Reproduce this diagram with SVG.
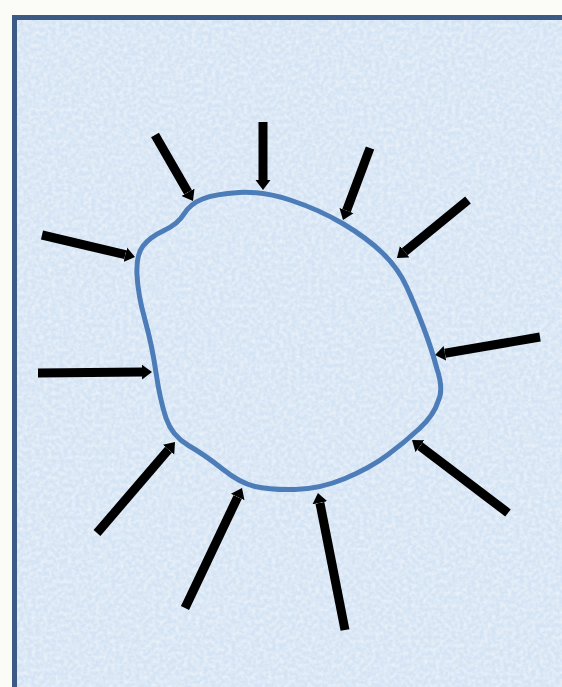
<svg xmlns="http://www.w3.org/2000/svg" width="562" height="687" viewBox="0 0 562 687">
  <style>
    .arrow { stroke: #000; stroke-width: 9; fill: none; stroke-linecap: butt; marker-end: url(#head); }
    .blob { fill: none; stroke: #4d7db8; stroke-width: 5; stroke-linejoin: round; }
  </style>
  <defs>
    <marker id="head" viewBox="0 0 10 16" markerUnits="userSpaceOnUse" markerWidth="10" markerHeight="16" refX="0" refY="8" orient="auto">
      <path d="M0,0.5 L10,8 L0,15.5 Z" fill="#000"/>
    </marker>
    <filter id="tex" x="0" y="0" width="100%" height="100%">
      <feTurbulence type="fractalNoise" baseFrequency="0.25" numOctaves="3" seed="5"/>
      <feColorMatrix type="matrix" values="0 0 0 0 1  0 0 0 0 1  0 0 0 0 1  1.7 0 0 0 -0.6"/>
    </filter>
  </defs>
  <rect x="0" y="0" width="562" height="687" fill="#fbfcf8"/>
  <g id="panel">
    <rect x="14.5" y="17.5" width="560" height="680" fill="#d5e4f4"/>
    <rect x="17" y="20" width="545" height="667" fill="#fff" filter="url(#tex)" opacity="0.6"/>
    <rect x="14.5" y="17.5" width="560" height="680" fill="none" stroke="#3b5b86" stroke-width="5"/>
  </g>
  <g id="cell">
    <path class="blob" d="M239,192.5 Q263,191 291.5,200.5 Q320,210 343.5,224 Q367,238 382.5,253 Q398,268 406.5,286.5 Q415,305 423.5,327.5 Q432,350 437,369 Q444,390 438,401.5 Q434,415 419.5,428.5 Q405,442 387.5,455 Q370,468 345,478.5 Q320,489 295,489.5 Q270,490 255,486.5 Q240,483 222.5,469 Q205,455 188.5,445.5 Q172,436 166,418 Q160,400 156,372.5 Q152,345 145,320 Q138,295 137,275 Q136,255 143,246 Q150,237 164,230.5 Q178,224 184,214 Q190,204 202.5,199 Q215,194 239,192.5 Z"/>
  </g>
  <g id="connectors">
    <line class="arrow" x1="155" y1="135" x2="188" y2="192.3"/>
    <line class="arrow" x1="263" y1="122" x2="263" y2="180"/>
    <line class="arrow" x1="370" y1="148" x2="346.5" y2="210.6"/>
    <line class="arrow" x1="468" y1="200" x2="404.7" y2="251.7"/>
    <line class="arrow" x1="540" y1="337" x2="444.9" y2="353.3"/>
    <line class="arrow" x1="508" y1="513" x2="420" y2="446.1"/>
    <line class="arrow" x1="345" y1="630" x2="319.9" y2="502.8"/>
    <line class="arrow" x1="185" y1="608" x2="237.7" y2="497"/>
    <line class="arrow" x1="97" y1="533" x2="168.5" y2="449.6"/>
    <line class="arrow" x1="38" y1="373" x2="142" y2="372.1"/>
    <line class="arrow" x1="42" y1="235" x2="125.3" y2="254.7"/>
  </g>
</svg>
